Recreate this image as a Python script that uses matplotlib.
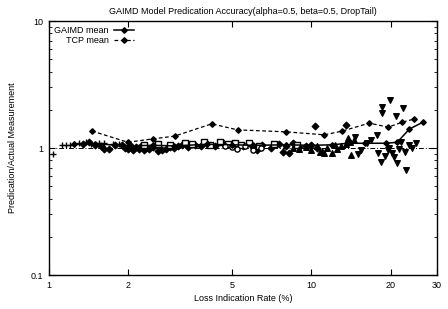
import matplotlib
matplotlib.use("Agg")
import matplotlib.pyplot as plt
from matplotlib.ticker import FixedLocator, LogLocator, NullFormatter, NullLocator

plt.rcParams['font.family'] = ['Liberation Sans', 'DejaVu Sans']

# ---- data ----
gaimd_x = [1.25, 1.5, 2.0, 2.5, 3.0, 4.0, 5.0, 6.0, 8.0, 10.0, 12.0, 13.7, 16.0, 19.3, 21.2, 23.6, 26.6]
gaimd_y = [1.07, 1.08, 1.04, 1.05, 1.04, 1.07, 1.06, 1.05, 1.06, 1.05, 1.06, 1.09, 1.09, 1.09, 1.11, 1.41, 1.60]

tcp_x = [1.46, 2.0, 2.49, 3.01, 4.17, 5.23, 8.03, 11.2, 13.1, 16.6, 19.6, 22.2, 24.6]
tcp_y = [1.36, 1.11, 1.18, 1.24, 1.55, 1.39, 1.34, 1.27, 1.36, 1.57, 1.46, 1.60, 1.69]

plus_x = [1.04, 1.12, 1.16, 1.2, 1.25, 1.3, 1.38, 1.45, 1.55, 1.62, 1.75, 1.85]
plus_y = [0.89, 1.05, 1.05, 1.06, 1.08, 1.10, 1.12, 1.08, 1.09, 1.10, 1.07, 1.08]

diam_x = [1.35, 1.42, 1.5, 1.58, 1.62, 1.7, 1.78, 1.9, 1.95, 2.0, 2.05, 2.1, 2.15, 2.2, 2.25, 2.3,
          2.35, 2.4, 2.5, 2.6, 2.7, 2.8, 2.9, 3.0, 3.1, 3.2, 3.4, 3.6, 3.8, 4.0, 4.3, 4.6,
          5.0, 5.5, 6.0, 6.5, 7.0, 7.5, 8.0, 8.5, 9.0, 9.5, 10.0, 10.5, 7.8, 8.2, 6.2, 10.3, 13.5]
diam_y = [1.08, 1.11, 1.06, 1.03, 0.98, 0.98, 1.06, 1.05, 1.00, 0.98, 1.03, 0.97, 1.01, 0.99, 1.04, 0.96,
          1.00, 0.98, 1.02, 0.95, 0.97, 0.99, 1.01, 1.00, 1.03, 1.05, 1.02, 1.06, 1.04, 1.08, 1.03, 1.10,
          1.06, 1.04, 1.02, 1.05, 1.00, 1.07, 1.04, 1.09, 1.01, 1.03, 1.05, 1.00, 0.93, 0.92, 0.97, 1.49, 1.52]

sq_x = [2.3, 2.6, 2.9, 3.3, 3.5, 3.9, 4.1, 4.5, 4.8, 5.1, 5.4, 5.8, 6.3, 7.2, 8.8]
sq_y = [1.06, 1.08, 1.05, 1.09, 1.07, 1.11, 1.06, 1.12, 1.08, 1.10, 1.05, 1.09, 1.04, 1.08, 1.06]

circ_x = [5.0, 5.2, 5.6, 6.0, 6.4, 4.7]
circ_y = [1.02, 0.98, 1.03, 0.97, 1.00, 1.04]

tri_x = [8.5, 9.0, 9.5, 10.0, 10.5, 11.0, 11.5, 12.0, 12.5, 13.0, 13.5, 14.0, 14.5, 10.8, 11.2, 12.3, 13.8, 14.1]
tri_y = [1.00, 0.98, 1.02, 0.97, 1.03, 0.95, 1.00, 0.92, 0.98, 1.04, 1.08, 1.12, 1.15, 0.93, 0.91, 1.05, 1.20, 0.88]

inv_x = [14.7, 15.5, 16.2, 17.8, 17.9, 18.4, 18.5, 18.6, 19.0, 19.5, 19.9, 20.2, 20.6, 21.0, 21.2,
         21.6, 22.0, 22.4, 22.8, 23.0, 23.6, 24.2, 25.0, 16.8, 15.0, 19.7]
inv_y = [1.22, 0.96, 1.10, 1.27, 0.92, 0.78, 2.10, 1.89, 0.86, 0.96, 2.39, 0.91, 0.85, 1.79, 0.76,
         0.98, 1.12, 2.07, 0.93, 0.67, 1.05, 1.00, 1.09, 1.15, 0.90, 1.00]

xticks = [1, 2, 5, 10, 20, 30]
xticklabels = ['1', '2', '5', '10', '20', '30']
yticks = [0.1, 1, 10]
yticklabels = ['0.1', '1', '10']

# ---- figure ----
fig = plt.figure(figsize=(4.48, 3.09), dpi=100)
ax = fig.add_axes([0.109, 0.110, 0.866, 0.822])
ax.set_xscale('log')
ax.set_yscale('log')
ax.set_xlim(1, 30)
ax.set_ylim(0.1, 10)

ax.axhline(1.0, color='black', lw=0.7, ls=(0, (5, 2, 1, 2)), zorder=1)

ax.scatter(plus_x, plus_y, marker='+', s=16, c='black', linewidths=1.0, zorder=3)
ax.scatter(diam_x, diam_y, marker='D', s=11, c='black', zorder=3)
ax.scatter(sq_x, sq_y, marker='s', s=14, facecolors='white', edgecolors='black', linewidths=1.0, zorder=3)
ax.scatter(circ_x, circ_y, marker='o', s=14, facecolors='white', edgecolors='black', linewidths=1.0, zorder=3)
ax.scatter(tri_x, tri_y, marker='^', s=16, c='black', zorder=3)
ax.scatter(inv_x, inv_y, marker='v', s=16, c='black', zorder=3)

ax.plot(gaimd_x, gaimd_y, color='black', lw=1.1, ls='-', marker='D', ms=2.8, label='GAIMD mean', zorder=4)
ax.plot(tcp_x, tcp_y, color='black', lw=0.9, ls=(0, (3, 2)), marker='D', ms=2.8, label='TCP mean', zorder=4)

ax.xaxis.set_major_locator(FixedLocator(xticks))
ax.set_xticklabels(xticklabels)
ax.xaxis.set_minor_locator(NullLocator())
ax.yaxis.set_major_locator(FixedLocator(yticks))
ax.set_yticklabels(yticklabels)
ax.yaxis.set_minor_locator(LogLocator(base=10, subs=range(2, 10)))
ax.yaxis.set_minor_formatter(NullFormatter())

ax.tick_params(which='both', direction='in', top=True, right=True, labelsize=6.5, pad=4)
ax.tick_params(which='major', length=4, width=0.8)
ax.tick_params(which='minor', length=2.5, width=0.6)
for sp in ax.spines.values():
    sp.set_linewidth(1.0)

ax.set_title('GAIMD Model Predication Accuracy(alpha=0.5, beta=0.5, DropTail)', fontsize=6.5, pad=5)
ax.set_xlabel('Loss Indication Rate (%)', fontsize=6.5, labelpad=3)
ax.set_ylabel('Predication/Actual Measurement', fontsize=6.5, labelpad=10)

leg = ax.legend(loc='upper left', markerfirst=False, frameon=False, fontsize=6.5,
                handlelength=2.2, handletextpad=0.6, labelspacing=0.1,
                borderaxespad=0.3, borderpad=0.3)

fig.savefig('out.png', dpi=100)
